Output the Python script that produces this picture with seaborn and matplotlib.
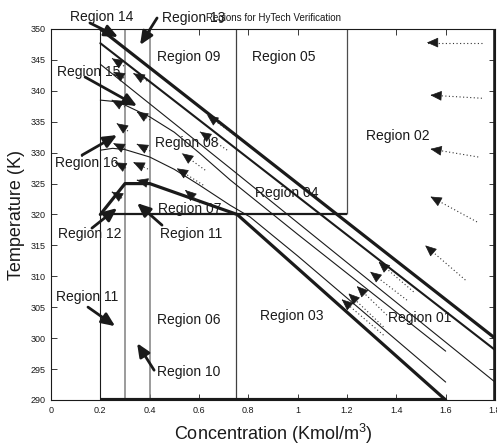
import numpy as np
import matplotlib
matplotlib.use("Agg")
import matplotlib.pyplot as plt
import seaborn as sns

# boundary and trajectory curves (concentration, temperature)
upper_c = [0.2, 1.8]
upper_t = [350.0, 300.0]
mid_c = [0.2, 1.8]
mid_t = [347.7, 298.1]
inner_c = [0.2, 0.726, 1.8]
inner_t = [344.3, 327.5, 292.9]
traj1_c = [0.2, 0.25, 0.3, 0.4, 0.5, 0.6, 0.726, 1.0, 1.6]
traj1_t = [338.5, 338.3, 337.7, 335.8, 333.3, 330.0, 325.6, 316.8, 297.9]
traj2_c = [0.2, 0.25, 0.3, 0.4, 0.5, 0.6, 0.726, 0.807, 1.0, 1.6]
traj2_t = [330.4, 330.7, 330.5, 329.3, 327.3, 324.8, 321.5, 319.6, 313.3, 292.9]
lower_c = [0.2, 0.3, 0.4, 0.755, 1.6]
lower_t = [320.0, 325.0, 325.0, 320.0, 290.0]

# straight region borders
vline_c = [0.2, 0.3, 0.4, 0.75, 1.2, 1.8]
vline_lo = [290, 290, 290, 290, 320, 290]
vline_hi = [349.5, 350, 350, 350, 350, 350]
hline_t = [320, 290]
hline_from = [0.2, 0.2]
hline_to = [1.2, 1.6]

# vector field arrows (dotted shaft, solid head)
vec_head_c = [1.524, 1.538, 1.538, 1.538, 1.517,
              1.328, 1.294, 1.240, 1.206, 1.179,
              0.247, 0.253, 0.334, 0.246, 0.348, 0.266, 0.253, 0.348, 0.260,
              0.334, 0.348, 0.604, 0.531, 0.633, 0.510, 0.544, 0.246]
vec_head_t = [347.8, 339.3, 330.6, 322.9, 315.0,
              312.35, 310.73, 308.41, 307.23, 306.26,
              345.25, 343.08, 342.82, 338.52, 336.62, 334.74, 331.50, 331.39, 328.43,
              328.43, 325.57, 333.38, 329.89, 336.08, 327.46, 323.95, 323.67]
vec_tail_c = [1.747, 1.747, 1.732, 1.727, 1.680,
              1.470, 1.443, 1.362, 1.348, 1.348,
              0.296, 0.296, 0.389, 0.300, 0.402, 0.312, 0.300, 0.402, 0.304,
              0.393, 0.393, 0.714, 0.625, 0.738, 0.617, 0.604, 0.288]
vec_tail_t = [347.8, 338.8, 329.3, 318.8, 309.4,
              307.49, 306.15, 303.72, 301.83, 300.49,
              344.01, 342.07, 341.59, 337.38, 335.28, 333.50, 330.58, 330.26, 327.51,
              327.35, 325.08, 330.42, 327.18, 333.01, 324.76, 321.84, 322.65]

# region labels
region_names = ["Region 14", "Region 13", "Region 09", "Region 05", "Region 02",
                "Region 15", "Region 08", "Region 16", "Region 04", "Region 07",
                "Region 12", "Region 11", "Region 11", "Region 06", "Region 10",
                "Region 03", "Region 01"]
region_c = [0.077, 0.450, 0.430, 0.815, 1.278, 0.024, 0.422, 0.016, 0.828, 0.434,
            0.028, 0.442, 0.020, 0.430, 0.430, 0.848, 1.367]
region_t = [352.0, 351.8, 345.47, 345.47, 332.69, 343.04, 331.55, 328.32, 323.46,
            320.87, 316.83, 316.83, 306.63, 302.91, 294.50, 303.56, 303.24]

# pointer arrows for the labels
ptr_tail_c = [0.158, 0.430, 0.138, 0.126, 0.166, 0.450, 0.150, 0.418]
ptr_tail_t = [350.97, 351.78, 342.23, 329.61, 317.80, 318.28, 305.02, 294.82]
ptr_head_c = [0.272, 0.361, 0.349, 0.268, 0.268, 0.349, 0.260, 0.349]
ptr_head_t = [348.71, 347.41, 337.54, 332.85, 321.04, 321.84, 301.94, 299.19]

sns.set_theme(style="ticks")
plt.rcParams["font.family"] = ["Liberation Sans", "DejaVu Sans"]
plt.rcParams["mathtext.fontset"] = "custom"
plt.rcParams["mathtext.rm"] = "Liberation Sans"
plt.rcParams["mathtext.it"] = "Liberation Sans:italic"
plt.rcParams["text.color"] = "k"
plt.rcParams["axes.labelcolor"] = "k"

fig = plt.figure(figsize=(4.97, 4.45), dpi=100)
ax = fig.add_axes([51 / 497, 45 / 445, 444 / 497, 371 / 445])

# region borders
vcolors = ["k", "0.5", "0.5", "0.25", "0.3", "k"]
vwidths = [0.8, 1.1, 1.1, 0.9, 0.9, 2.6]
for c, lo, hi, col, w in zip(vline_c, vline_lo, vline_hi, vcolors, vwidths):
    ax.plot([c, c], [lo, hi], color=col, lw=w, solid_capstyle="butt")
for t, a, b, w in zip(hline_t, hline_from, hline_to, [1.6, 3.0]):
    ax.plot([a, b], [t, t], color="k", lw=w, solid_capstyle="butt")

# curves
curves = [(upper_c, upper_t, 2.3), (mid_c, mid_t, 1.5), (inner_c, inner_t, 0.8),
          (traj1_c, traj1_t, 0.8), (traj2_c, traj2_t, 0.8), (lower_c, lower_t, 2.3)]
for cc, tt, w in curves:
    sns.lineplot(x=cc, y=tt, ax=ax, color="k", linewidth=w, sort=False,
                 estimator=None)

# vector field arrows
for hc, ht, tc, tt in zip(vec_head_c, vec_head_t, vec_tail_c, vec_tail_t):
    ax.plot([tc, hc], [tt, ht], color="0.2", lw=0.8, ls=(0, (1, 2.2)))
    ax.annotate("", xy=(hc, ht), xytext=(hc + (tc - hc) * 0.05, ht + (tt - ht) * 0.05),
                arrowprops=dict(arrowstyle="-|>,head_length=0.8,head_width=0.35",
                                color="k", lw=0.5, shrinkA=0, shrinkB=0,
                                mutation_scale=9))

# label pointers
for tc, tt, hc, ht in zip(ptr_tail_c, ptr_tail_t, ptr_head_c, ptr_head_t):
    ax.annotate("", xy=(hc, ht), xytext=(tc, tt), annotation_clip=False,
                arrowprops=dict(arrowstyle="-|>,head_length=0.8,head_width=0.35",
                                color="k", lw=2.0, shrinkA=0, shrinkB=0,
                                mutation_scale=10))

for name, c, t in zip(region_names, region_c, region_t):
    ax.text(c, t, name, fontsize=10, ha="left", va="center", clip_on=False)

ax.set_xlim(0, 1.8)
ax.set_ylim(290, 350)
xt = np.arange(0, 1.81, 0.2)
ax.set_xticks(xt)
ax.set_xticklabels([f"{v:g}" for v in xt])
ax.set_yticks(np.arange(290, 351, 5))
ax.tick_params(direction="in", top=True, right=True, length=4, width=0.6,
               labelsize=6.5, pad=4, colors="k")
for s in ax.spines.values():
    s.set_linewidth(0.8)
    s.set_color("k")

ax.set_title("Regions for HyTech Verification", fontsize=7, pad=6)
ax.set_xlabel("Concentration (Kmol/m$^3$)", fontsize=13)
ax.set_ylabel("Temperature (K)", fontsize=13)
ax.xaxis.set_label_coords(0.5, -0.06)
ax.yaxis.set_label_coords(-0.058, 0.5)

fig.savefig("out.png", dpi=100, facecolor="white")
